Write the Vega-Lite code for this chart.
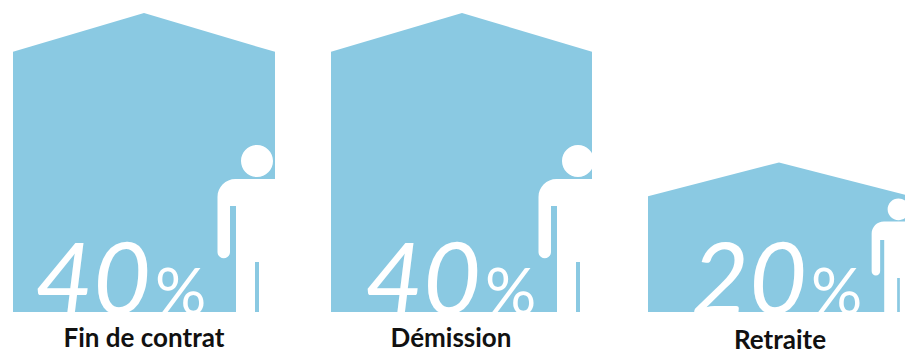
{
  "$schema": "https://vega.github.io/schema/vega-lite/v6.json",
  "width": 905,
  "height": 354,
  "padding": 0,
  "autosize": {"type": "none"},
  "background": "white",
  "config": {"view": {"stroke": null}},
  "datasets": {
    "maisons": [
      {"poste": "Fin de contrat", "pos": 13, "hauteur": 34.8},
      {"poste": "Fin de contrat", "pos": 144, "hauteur": 40},
      {"poste": "Fin de contrat", "pos": 275, "hauteur": 34.8},
      {"poste": "Démission", "pos": 331, "hauteur": 34.8},
      {"poste": "Démission", "pos": 462, "hauteur": 40},
      {"poste": "Démission", "pos": 592, "hauteur": 34.8},
      {"poste": "Retraite", "pos": 648, "hauteur": 15.5},
      {"poste": "Retraite", "pos": 779, "hauteur": 20},
      {"poste": "Retraite", "pos": 910, "hauteur": 15.5}
    ],
    "postes": [
      {"poste": "Fin de contrat", "part": 40, "centre": 144, "chiffre": 151, "personne": 257, "ligne": -4.65},
      {"poste": "Démission", "part": 40, "centre": 451, "chiffre": 481, "personne": 578, "ligne": -4.65},
      {"poste": "Retraite", "part": 20, "centre": 780, "chiffre": 807, "personne": 898.5, "ligne": -4.9}
    ]
  },
  "encoding": {
    "x": {"type": "quantitative", "scale": {"domain": [0, 905], "range": [0, 905]}, "axis": null},
    "y": {"type": "quantitative", "scale": {"domain": [-5.62, 41.74], "range": [354, 0]}, "axis": null}
  },
  "layer": [
    {
      "data": {"name": "maisons"},
      "mark": {"type": "area", "color": "#8AC9E2", "clip": true, "interpolate": "linear"},
      "encoding": {
        "x": {"field": "pos", "type": "quantitative"},
        "y": {"field": "hauteur", "type": "quantitative", "stack": null},
        "y2": {"datum": 0},
        "detail": {"field": "poste"}
      }
    },
    {
      "data": {"name": "postes"},
      "mark": {
        "type": "point",
        "filled": true,
        "color": "white",
        "opacity": 1,
        "clip": true,
        "shape": "M-0.02,0 L-0.21,0 L-0.21,-1.06 L-0.27,-1.06 L-0.27,-0.6 A0.0625,0.0625 0 0 1 -0.395,-0.6 L-0.395,-1.15 A0.18,0.18 0 0 1 -0.215,-1.33 L0.215,-1.33 A0.18,0.18 0 0 1 0.395,-1.15 L0.395,-0.6 A0.0625,0.0625 0 0 1 0.27,-0.6 L0.27,-1.06 L0.21,-1.06 L0.21,0 L0.02,0 L0.02,-0.5 L-0.02,-0.5 Z M-0.16,-1.51 A0.16,0.16 0 1 1 0.16,-1.51 A0.16,0.16 0 1 1 -0.16,-1.51 Z"
      },
      "encoding": {
        "x": {"field": "personne", "type": "quantitative"},
        "y": {"datum": 0, "type": "quantitative"},
        "size": {"field": "part", "type": "quantitative", "legend": null, "scale": {"zero": false, "domain": [20, 40], "range": [18500, 40000]}}
      }
    },
    {
      "data": {"name": "postes"},
      "mark": {"type": "text", "font": "Lato", "fontWeight": 400, "fontStyle": "italic", "fontSize": 100, "color": "white", "align": "right", "baseline": "alphabetic"},
      "encoding": {
        "x": {"field": "chiffre", "type": "quantitative"},
        "y": {"datum": -0.3, "type": "quantitative"},
        "text": {"field": "part", "type": "quantitative"}
      }
    },
    {
      "data": {"name": "postes"},
      "mark": {"type": "text", "font": "Lato", "fontWeight": 400, "fontSize": 64, "color": "white", "align": "left", "baseline": "alphabetic", "dx": 4},
      "encoding": {
        "x": {"field": "chiffre", "type": "quantitative"},
        "y": {"datum": -0.3, "type": "quantitative"},
        "text": {"value": "%"}
      }
    },
    {
      "data": {"name": "postes"},
      "mark": {"type": "text", "font": "Lato", "fontWeight": 700, "fontSize": 26, "color": "#111111", "align": "center", "baseline": "alphabetic"},
      "encoding": {
        "x": {"field": "centre", "type": "quantitative"},
        "y": {"field": "ligne", "type": "quantitative"},
        "text": {"field": "poste"}
      }
    }
  ]
}
